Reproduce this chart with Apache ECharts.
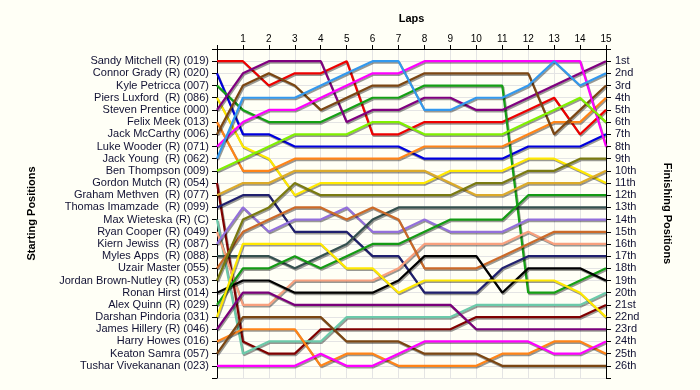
<!DOCTYPE html>
<html>
<head>
<meta charset="utf-8">
<script src="https://cdn.jsdelivr.net/npm/echarts@6/dist/echarts.min.js"></script>
<style>
  html, body { margin: 0; padding: 0; background: #fffff6; }
  #chart { width: 700px; height: 390px; }
</style>
</head>
<body>
<div id="chart"></div>
<script>
// ---- data ----
const lapTicks = [0, 1, 2, 3, 4, 5, 6, 7, 8, 9, 10, 11, 12, 13, 14, 15];

const startNames = [
  "Sandy Mitchell (R) (019)", "Connor Grady (R) (020)", "Kyle Petricca (007)",
  "Piers Luxford  (R) (086)", "Steven Prentice (000)", "Felix Meek (013)",
  "Jack McCarthy (006)", "Luke Wooder (R) (071)", "Jack Young  (R) (062)",
  "Ben Thompson (009)", "Gordon Mutch (R) (054)", "Graham Methven  (R) (077)",
  "Thomas Imamzade  (R) (099)", "Max Wieteska (R) (C)", "Ryan Cooper (R) (049)",
  "Kiern Jewiss  (R) (087)", "Myles Apps  (R) (088)", "Uzair Master (055)",
  "Jordan Brown-Nutley (R) (053)", "Ronan Hirst (014)", "Alex Quinn (R) (029)",
  "Darshan Pindoria (031)", "James Hillery (R) (046)", "Harry Howes (016)",
  "Keaton Samra (057)", "Tushar Vivekananan (023)"
];

const finishLabels = [
  "1st", "2nd", "3rd", "4th", "5th", "6th", "7th", "8th", "9th", "10th",
  "11th", "12th", "13th", "14th", "15th", "16th", "17th", "18th", "19th", "20th",
  "21st", "22nd", "23rd", "24th", "25th", "26th"
];

// position of each driver (in start order) at laps 0..15
const sandyMitchell     = [1, 1, 3, 2, 2, 1, 7, 7, 6, 6, 6, 6, 5, 4, 7, 5];
const connorGrady       = [2, 7, 7, 8, 8, 8, 8, 8, 9, 9, 9, 9, 8, 8, 8, 7];
const kylePetricca      = [3, 5, 6, 6, 6, 5, 4, 4, 3, 3, 3, 3, 20, 20, 19, 18];
const piersLuxford      = [4, 8, 9, 12, 11, 11, 11, 11, 11, 10, 10, 10, 9, 9, 10, 11];
const stevenPrentice    = [5, 2, 1, 1, 1, 6, 5, 5, 4, 4, 5, 5, 4, 3, 2, 1];
const felixMeek         = [6, 10, 10, 9, 9, 9, 9, 9, 8, 8, 8, 8, 7, 6, 6, 4];
const jackMcCarthy      = [7, 3, 2, 3, 5, 4, 3, 3, 2, 2, 2, 2, 2, 7, 5, 3];
const lukeWooder        = [8, 6, 5, 5, 4, 3, 2, 2, 1, 1, 1, 1, 1, 1, 1, 8];
const jackYoung         = [9, 4, 4, 4, 3, 2, 1, 1, 5, 5, 4, 4, 3, 1, 3, 2];
const benThompson       = [10, 9, 8, 7, 7, 7, 6, 6, 7, 7, 7, 7, 6, 5, 4, 6];
const gordonMutch       = [11, 24, 25, 25, 23, 23, 23, 23, 23, 23, 22, 22, 22, 22, 22, 21];
const grahamMethven     = [12, 11, 11, 10, 10, 10, 10, 10, 10, 11, 12, 12, 11, 11, 11, 10];
const thomasImamzade    = [13, 12, 12, 15, 15, 15, 17, 17, 20, 20, 20, 18, 17, 17, 17, 17];
const maxWieteska       = [14, 25, 24, 24, 24, 22, 22, 22, 22, 22, 21, 21, 21, 21, 21, 20];
const ryanCooper        = [15, 21, 21, 19, 19, 19, 19, 18, 16, 16, 16, 16, 15, 16, 16, 16];
const kiernJewiss       = [16, 13, 15, 14, 14, 13, 15, 15, 14, 15, 15, 15, 14, 14, 14, 14];
const mylesApps         = [17, 17, 17, 18, 17, 16, 14, 13, 13, 13, 13, 13, 13, 13, 13, 13];
const uzairMaster       = [18, 15, 14, 13, 13, 14, 13, 14, 18, 18, 18, 17, 16, 15, 15, 15];
const jordanBrownNutley = [19, 14, 13, 11, 12, 12, 12, 12, 12, 12, 11, 11, 10, 10, 9, 9];
const ronanHirst        = [20, 19, 19, 20, 20, 20, 20, 19, 17, 17, 17, 20, 18, 18, 18, 19];
const alexQuinn         = [21, 18, 18, 17, 18, 17, 16, 16, 15, 14, 14, 14, 12, 12, 12, 12];
const darshanPindoria   = [22, 16, 16, 16, 16, 18, 18, 20, 19, 19, 19, 19, 19, 19, 20, 22];
const jamesHillery      = [23, 20, 20, 21, 21, 21, 21, 21, 21, 21, 23, 23, 23, 23, 23, 23];
const harryHowes        = [24, 23, 23, 23, 26, 25, 25, 26, 26, 26, 26, 25, 25, 24, 24, 25];
const keatonSamra       = [25, 22, 22, 22, 22, 24, 24, 24, 25, 25, 25, 26, 26, 26, 26, 26];
const tusharVivekananan = [26, 26, 26, 26, 25, 26, 26, 25, 24, 24, 24, 24, 24, 25, 25, 24];

const driverPositions = [
  sandyMitchell, connorGrady, kylePetricca, piersLuxford, stevenPrentice, felixMeek,
  jackMcCarthy, lukeWooder, jackYoung, benThompson, gordonMutch, grahamMethven,
  thomasImamzade, maxWieteska, ryanCooper, kiernJewiss, mylesApps, uzairMaster,
  jordanBrownNutley, ronanHirst, alexQuinn, darshanPindoria, jamesHillery,
  harryHowes, keatonSamra, tusharVivekananan
];

// ---- styles ----
const lineColors = [
  '#ee0000', '#0000dd', '#14a014', '#ffe800', '#800080', '#ff8418',
  '#7b4612', '#ff00ff', '#3399ee', '#80f000', '#800000', '#dcaa2a',
  '#20206e', '#6ccaaa', '#f8a07e', '#9370db', '#34504e', '#cc6a28',
  '#7a7a10', '#000000', '#149a14', '#ffe800', '#7a007a', '#ff8418',
  '#7b4612', '#ff00ff'
];

const FONT = 'Arial, "Liberation Sans", sans-serif';

const series = driverPositions.map((pos, i) => ({
  type: 'line',
  name: startNames[i],
  data: lapTicks.map((lap, k) => [lap, pos[k]]),
  showSymbol: false,
  symbol: 'none',
  silent: true,
  animation: false,
  lineStyle: {
    color: lineColors[i],
    width: 2.2,
    shadowColor: 'rgba(0,0,0,0.4)',
    shadowBlur: 0,
    shadowOffsetX: 1,
    shadowOffsetY: 1.5
  },
  z: 2 + i * 0.01
}));

const chart = echarts.init(document.getElementById('chart'), null, { renderer: 'canvas' });
chart.setOption({
  backgroundColor: '#fffff6',
  animation: false,
  grid: { left: 217, right: 94, top: 49, bottom: 12, containLabel: false },
  xAxis: {
    type: 'value',
    position: 'top',
    min: 0, max: 15, interval: 1,
    name: 'Laps',
    nameLocation: 'middle',
    nameGap: 25,
    nameTextStyle: { fontFamily: FONT, fontSize: 11, fontWeight: 'bold', color: '#000' },
    axisLine: { show: true, lineStyle: { color: '#000', width: 1 } },
    axisTick: { show: true, length: 4, lineStyle: { color: '#000' } },
    axisLabel: {
      fontFamily: FONT, fontSize: 10, color: '#000', margin: 5,
      formatter: v => (v === 0 ? '' : String(v))
    },
    splitLine: { show: true, lineStyle: { color: '#e4e4e4', width: 1 } }
  },
  yAxis: [
    {
      type: 'value',
      position: 'left',
      min: 0, max: 27, interval: 1, inverse: true,
      name: 'Starting Positions',
      nameLocation: 'middle',
      nameGap: 180,
      nameTextStyle: { fontFamily: FONT, fontSize: 11, fontWeight: 'bold', color: '#000' },
      axisLine: { show: true, lineStyle: { color: '#000', width: 1 } },
      axisTick: { show: true, length: 5, lineStyle: { color: '#000' } },
      axisLabel: {
        fontFamily: FONT, fontSize: 11, color: '#111133', margin: 8,
        formatter: v => (v >= 1 && v <= 26 ? startNames[v - 1] : '')
      },
      splitLine: { show: true, lineStyle: { color: '#e4e4e4', width: 1 } }
    },
    {
      type: 'value',
      position: 'right',
      min: 0, max: 27, interval: 1, inverse: true,
      name: 'Finishing Positions',
      nameLocation: 'middle',
      nameRotate: -90,
      nameGap: 56,
      nameTextStyle: { fontFamily: FONT, fontSize: 11, fontWeight: 'bold', color: '#000' },
      axisLine: { show: true, lineStyle: { color: '#000', width: 1 } },
      axisTick: { show: true, length: 5, lineStyle: { color: '#000' } },
      axisLabel: {
        fontFamily: FONT, fontSize: 11, color: '#111133', margin: 9,
        formatter: v => (v >= 1 && v <= 26 ? finishLabels[v - 1] : '')
      },
      splitLine: { show: false }
    }
  ],
  series: series
});
</script>
</body>
</html>
